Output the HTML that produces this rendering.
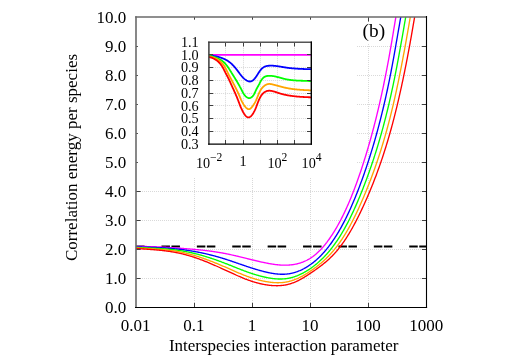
<!DOCTYPE html>
<html><head><meta charset="utf-8"><title>chart</title>
<style>html,body{margin:0;padding:0;background:#fff;overflow:hidden}body{width:510px;height:357px;position:relative;font-family:"Liberation Serif",serif}</style>
</head><body>
<svg width="510" height="357" viewBox="0 0 510 357" style="position:absolute;left:0;top:0">
<defs><clipPath id="cm"><rect x="136.00" y="17.00" width="290.50" height="290.50"/></clipPath>
<clipPath id="ci"><rect x="208.90" y="42.20" width="102.40" height="102.00"/></clipPath></defs>
<rect width="510" height="357" fill="#fff"/>
<line x1="136.00" y1="278.50" x2="426.50" y2="278.50" stroke="#d9d9d9" stroke-width="1" stroke-dasharray="1 1" fill="none"/>
<line x1="136.00" y1="249.50" x2="426.50" y2="249.50" stroke="#d9d9d9" stroke-width="1" stroke-dasharray="1 1" fill="none"/>
<line x1="136.00" y1="220.50" x2="426.50" y2="220.50" stroke="#d9d9d9" stroke-width="1" stroke-dasharray="1 1" fill="none"/>
<line x1="136.00" y1="191.50" x2="426.50" y2="191.50" stroke="#d9d9d9" stroke-width="1" stroke-dasharray="1 1" fill="none"/>
<line x1="357.00" y1="162.50" x2="426.50" y2="162.50" stroke="#d9d9d9" stroke-width="1" stroke-dasharray="1 1" fill="none"/>
<line x1="357.00" y1="133.50" x2="426.50" y2="133.50" stroke="#d9d9d9" stroke-width="1" stroke-dasharray="1 1" fill="none"/>
<line x1="357.00" y1="104.50" x2="426.50" y2="104.50" stroke="#d9d9d9" stroke-width="1" stroke-dasharray="1 1" fill="none"/>
<line x1="357.00" y1="75.50" x2="426.50" y2="75.50" stroke="#d9d9d9" stroke-width="1" stroke-dasharray="1 1" fill="none"/>
<line x1="357.00" y1="46.50" x2="426.50" y2="46.50" stroke="#d9d9d9" stroke-width="1" stroke-dasharray="1 1" fill="none"/>
<line x1="194.50" y1="178.00" x2="194.50" y2="307.50" stroke="#d9d9d9" stroke-width="1" stroke-dasharray="1 1" fill="none"/>
<line x1="252.50" y1="178.00" x2="252.50" y2="307.50" stroke="#d9d9d9" stroke-width="1" stroke-dasharray="1 1" fill="none"/>
<line x1="310.50" y1="178.00" x2="310.50" y2="307.50" stroke="#d9d9d9" stroke-width="1" stroke-dasharray="1 1" fill="none"/>
<line x1="368.50" y1="44.00" x2="368.50" y2="307.50" stroke="#d9d9d9" stroke-width="1" stroke-dasharray="1 1" fill="none"/>
<line x1="136.00" y1="246.50" x2="426.50" y2="246.50" stroke="#000" stroke-width="2.00" stroke-dasharray="8.5 1.5 8.5 16.9" stroke-dashoffset="9.95"/>
<g clip-path="url(#cm)" fill="none" stroke-width="1.35" stroke-linejoin="round">
<path d="M136.00 246.57 L136.52 246.56 L137.05 246.55 L137.57 246.54 L138.10 246.53 L138.62 246.53 L139.15 246.52 L139.67 246.52 L140.19 246.51 L140.72 246.51 L141.24 246.51 L141.77 246.51 L142.29 246.51 L142.82 246.51 L143.34 246.51 L143.86 246.52 L144.39 246.52 L144.91 246.52 L145.44 246.53 L145.96 246.54 L146.49 246.54 L147.01 246.55 L147.53 246.56 L148.06 246.57 L148.58 246.58 L149.11 246.59 L149.63 246.60 L150.16 246.62 L150.68 246.63 L151.20 246.64 L151.73 246.66 L152.25 246.67 L152.78 246.69 L153.30 246.71 L153.83 246.73 L154.35 246.74 L154.87 246.76 L155.40 246.78 L155.92 246.80 L156.45 246.82 L156.97 246.84 L157.50 246.87 L158.02 246.89 L158.54 246.91 L159.07 246.94 L159.59 246.96 L160.12 246.99 L160.64 247.01 L161.17 247.04 L161.69 247.06 L162.21 247.09 L162.74 247.12 L163.26 247.15 L163.79 247.18 L164.31 247.20 L164.83 247.23 L165.36 247.26 L165.88 247.29 L166.41 247.33 L166.93 247.36 L167.46 247.39 L167.98 247.42 L168.50 247.45 L169.03 247.49 L169.55 247.52 L170.08 247.55 L170.60 247.59 L171.13 247.62 L171.65 247.66 L172.17 247.69 L172.70 247.73 L173.22 247.76 L173.75 247.80 L174.27 247.83 L174.80 247.87 L175.32 247.91 L175.84 247.95 L176.37 247.98 L176.89 248.02 L177.42 248.06 L177.94 248.10 L178.47 248.13 L178.99 248.17 L179.51 248.21 L180.04 248.25 L180.56 248.29 L181.09 248.33 L181.61 248.37 L182.14 248.41 L182.66 248.45 L183.18 248.49 L183.71 248.53 L184.23 248.57 L184.76 248.61 L185.28 248.65 L185.81 248.69 L186.33 248.73 L186.85 248.77 L187.38 248.81 L187.90 248.85 L188.43 248.89 L188.95 248.94 L189.48 248.98 L190.00 249.02 L190.52 249.07 L191.05 249.11 L191.57 249.15 L192.10 249.20 L192.62 249.24 L193.15 249.29 L193.67 249.34 L194.19 249.38 L194.72 249.43 L195.24 249.48 L195.77 249.52 L196.29 249.57 L196.82 249.62 L197.34 249.67 L197.86 249.72 L198.39 249.77 L198.91 249.82 L199.44 249.88 L199.96 249.93 L200.49 249.98 L201.01 250.04 L201.53 250.09 L202.06 250.15 L202.58 250.20 L203.11 250.26 L203.63 250.32 L204.16 250.38 L204.68 250.44 L205.20 250.50 L205.73 250.56 L206.25 250.62 L206.78 250.68 L207.30 250.75 L207.83 250.81 L208.35 250.88 L208.87 250.94 L209.40 251.01 L209.92 251.08 L210.45 251.15 L210.97 251.22 L211.50 251.29 L212.02 251.36 L212.54 251.43 L213.07 251.51 L213.59 251.58 L214.12 251.66 L214.64 251.74 L215.17 251.82 L215.69 251.89 L216.21 251.97 L216.74 252.06 L217.26 252.14 L217.79 252.22 L218.31 252.31 L218.83 252.39 L219.36 252.48 L219.88 252.57 L220.41 252.66 L220.93 252.75 L221.46 252.84 L221.98 252.93 L222.50 253.03 L223.03 253.12 L223.55 253.22 L224.08 253.32 L224.60 253.42 L225.13 253.52 L225.65 253.62 L226.17 253.72 L226.70 253.83 L227.22 253.93 L227.75 254.04 L228.27 254.15 L228.80 254.25 L229.32 254.37 L229.84 254.48 L230.37 254.59 L230.89 254.71 L231.42 254.82 L231.94 254.94 L232.47 255.05 L232.99 255.17 L233.51 255.29 L234.04 255.41 L234.56 255.54 L235.09 255.66 L235.61 255.78 L236.14 255.90 L236.66 256.03 L237.18 256.15 L237.71 256.28 L238.23 256.41 L238.76 256.53 L239.28 256.66 L239.81 256.79 L240.33 256.92 L240.85 257.05 L241.38 257.17 L241.90 257.30 L242.43 257.43 L242.95 257.56 L243.48 257.69 L244.00 257.82 L244.52 257.95 L245.05 258.08 L245.57 258.21 L246.10 258.34 L246.62 258.47 L247.15 258.60 L247.67 258.73 L248.19 258.86 L248.72 258.99 L249.24 259.12 L249.77 259.25 L250.29 259.38 L250.82 259.51 L251.34 259.64 L251.86 259.77 L252.39 259.89 L252.91 260.02 L253.44 260.15 L253.96 260.27 L254.49 260.40 L255.01 260.52 L255.53 260.65 L256.06 260.77 L256.58 260.90 L257.11 261.02 L257.63 261.14 L258.16 261.26 L258.68 261.38 L259.20 261.50 L259.73 261.62 L260.25 261.74 L260.78 261.85 L261.30 261.97 L261.83 262.08 L262.35 262.20 L262.87 262.31 L263.40 262.42 L263.92 262.53 L264.45 262.64 L264.97 262.75 L265.50 262.86 L266.02 262.96 L266.54 263.07 L267.07 263.17 L267.59 263.27 L268.12 263.37 L268.64 263.47 L269.17 263.57 L269.69 263.66 L270.21 263.75 L270.74 263.84 L271.26 263.93 L271.79 264.02 L272.31 264.10 L272.84 264.18 L273.36 264.26 L273.88 264.34 L274.41 264.41 L274.93 264.48 L275.46 264.55 L275.98 264.61 L276.50 264.67 L277.03 264.73 L277.55 264.79 L278.08 264.84 L278.60 264.89 L279.13 264.93 L279.65 264.97 L280.17 265.01 L280.70 265.05 L281.22 265.08 L281.75 265.11 L282.27 265.13 L282.80 265.15 L283.32 265.16 L283.84 265.18 L284.37 265.18 L284.89 265.18 L285.42 265.18 L285.94 265.18 L286.47 265.17 L286.99 265.15 L287.51 265.13 L288.04 265.10 L288.56 265.07 L289.09 265.04 L289.61 265.00 L290.14 264.95 L290.66 264.90 L291.18 264.85 L291.71 264.79 L292.23 264.72 L292.76 264.65 L293.28 264.57 L293.81 264.49 L294.33 264.40 L294.85 264.30 L295.38 264.20 L295.90 264.09 L296.43 263.98 L296.95 263.86 L297.48 263.73 L298.00 263.60 L298.52 263.46 L299.05 263.32 L299.57 263.17 L300.10 263.01 L300.62 262.84 L301.15 262.67 L301.67 262.48 L302.19 262.30 L302.72 262.10 L303.24 261.90 L303.77 261.68 L304.29 261.46 L304.82 261.24 L305.34 261.00 L305.86 260.75 L306.39 260.50 L306.91 260.24 L307.44 259.96 L307.96 259.68 L308.49 259.39 L309.01 259.09 L309.53 258.78 L310.06 258.46 L310.58 258.12 L311.11 257.78 L311.63 257.43 L312.16 257.06 L312.68 256.69 L313.20 256.30 L313.73 255.91 L314.25 255.50 L314.78 255.08 L315.30 254.65 L315.83 254.21 L316.35 253.76 L316.87 253.30 L317.40 252.82 L317.92 252.34 L318.45 251.84 L318.97 251.33 L319.50 250.81 L320.02 250.28 L320.54 249.74 L321.07 249.19 L321.59 248.62 L322.12 248.05 L322.64 247.46 L323.17 246.86 L323.69 246.25 L324.21 245.63 L324.74 244.99 L325.26 244.35 L325.79 243.69 L326.31 243.02 L326.84 242.34 L327.36 241.64 L327.88 240.94 L328.41 240.22 L328.93 239.49 L329.46 238.75 L329.98 238.00 L330.50 237.23 L331.03 236.46 L331.55 235.67 L332.08 234.87 L332.60 234.06 L333.13 233.23 L333.65 232.40 L334.17 231.55 L334.70 230.69 L335.22 229.82 L335.75 228.94 L336.27 228.05 L336.80 227.14 L337.32 226.22 L337.84 225.29 L338.37 224.35 L338.89 223.39 L339.42 222.42 L339.94 221.44 L340.47 220.45 L340.99 219.44 L341.51 218.42 L342.04 217.39 L342.56 216.34 L343.09 215.28 L343.61 214.20 L344.14 213.12 L344.66 212.02 L345.18 210.90 L345.71 209.77 L346.23 208.63 L346.76 207.47 L347.28 206.30 L347.81 205.12 L348.33 203.92 L348.85 202.70 L349.38 201.47 L349.90 200.23 L350.43 198.97 L350.95 197.70 L351.48 196.41 L352.00 195.11 L352.52 193.80 L353.05 192.46 L353.57 191.12 L354.10 189.76 L354.62 188.38 L355.15 186.99 L355.67 185.58 L356.19 184.16 L356.72 182.72 L357.24 181.27 L357.77 179.80 L358.29 178.32 L358.82 176.82 L359.34 175.31 L359.86 173.78 L360.39 172.23 L360.91 170.67 L361.44 169.10 L361.96 167.51 L362.49 165.90 L363.01 164.28 L363.53 162.64 L364.06 160.99 L364.58 159.32 L365.11 157.64 L365.63 155.94 L366.16 154.22 L366.68 152.49 L367.20 150.74 L367.73 148.97 L368.25 147.18 L368.78 145.37 L369.30 143.55 L369.83 141.70 L370.35 139.84 L370.87 137.96 L371.40 136.06 L371.92 134.13 L372.45 132.19 L372.97 130.23 L373.50 128.24 L374.02 126.23 L374.54 124.20 L375.07 122.15 L375.59 120.07 L376.12 117.97 L376.64 115.84 L377.17 113.69 L377.69 111.52 L378.21 109.32 L378.74 107.09 L379.26 104.84 L379.79 102.56 L380.31 100.25 L380.84 97.91 L381.36 95.55 L381.88 93.15 L382.41 90.73 L382.93 88.27 L383.46 85.78 L383.98 83.26 L384.50 80.71 L385.03 78.12 L385.55 75.50 L386.08 72.84 L386.60 70.15 L387.13 67.42 L387.65 64.66 L388.17 61.86 L388.70 59.01 L389.22 56.13 L389.75 53.21 L390.27 50.24 L390.80 47.24 L391.32 44.18 L391.84 41.09 L392.37 37.95 L392.89 34.79 L393.42 31.61 L393.94 28.43 L394.47 25.27 L394.99 22.13 L395.51 19.03 L396.04 15.99 L396.56 13.03 L397.09 10.16 L397.61 7.39" stroke="#ff00ff"/>
<path d="M136.00 246.91 L136.53 246.92 L137.07 246.93 L137.60 246.94 L138.14 246.95 L138.67 246.96 L139.20 246.97 L139.74 246.99 L140.27 247.00 L140.81 247.01 L141.34 247.02 L141.88 247.04 L142.41 247.05 L142.94 247.06 L143.48 247.07 L144.01 247.09 L144.55 247.10 L145.08 247.12 L145.61 247.13 L146.15 247.14 L146.68 247.16 L147.22 247.18 L147.75 247.19 L148.28 247.21 L148.82 247.22 L149.35 247.24 L149.89 247.26 L150.42 247.28 L150.96 247.30 L151.49 247.31 L152.02 247.33 L152.56 247.35 L153.09 247.37 L153.63 247.40 L154.16 247.42 L154.69 247.44 L155.23 247.46 L155.76 247.48 L156.30 247.51 L156.83 247.53 L157.37 247.56 L157.90 247.58 L158.43 247.61 L158.97 247.64 L159.50 247.66 L160.04 247.69 L160.57 247.72 L161.10 247.75 L161.64 247.78 L162.17 247.81 L162.71 247.84 L163.24 247.88 L163.77 247.91 L164.31 247.94 L164.84 247.98 L165.38 248.01 L165.91 248.05 L166.45 248.09 L166.98 248.13 L167.51 248.17 L168.05 248.21 L168.58 248.25 L169.12 248.29 L169.65 248.33 L170.18 248.37 L170.72 248.42 L171.25 248.46 L171.79 248.51 L172.32 248.56 L172.85 248.61 L173.39 248.65 L173.92 248.70 L174.46 248.76 L174.99 248.81 L175.53 248.86 L176.06 248.91 L176.59 248.97 L177.13 249.03 L177.66 249.08 L178.20 249.14 L178.73 249.20 L179.26 249.26 L179.80 249.32 L180.33 249.39 L180.87 249.45 L181.40 249.52 L181.94 249.58 L182.47 249.65 L183.00 249.72 L183.54 249.79 L184.07 249.86 L184.61 249.93 L185.14 250.00 L185.67 250.08 L186.21 250.15 L186.74 250.23 L187.28 250.31 L187.81 250.39 L188.34 250.47 L188.88 250.55 L189.41 250.63 L189.95 250.72 L190.48 250.80 L191.02 250.89 L191.55 250.98 L192.08 251.06 L192.62 251.15 L193.15 251.25 L193.69 251.34 L194.22 251.43 L194.75 251.53 L195.29 251.62 L195.82 251.72 L196.36 251.82 L196.89 251.92 L197.42 252.02 L197.96 252.13 L198.49 252.23 L199.03 252.34 L199.56 252.44 L200.10 252.55 L200.63 252.66 L201.16 252.77 L201.70 252.88 L202.23 253.00 L202.77 253.11 L203.30 253.23 L203.83 253.34 L204.37 253.46 L204.90 253.58 L205.44 253.70 L205.97 253.83 L206.51 253.95 L207.04 254.08 L207.57 254.20 L208.11 254.33 L208.64 254.46 L209.18 254.59 L209.71 254.72 L210.24 254.85 L210.78 254.99 L211.31 255.12 L211.85 255.26 L212.38 255.40 L212.91 255.54 L213.45 255.68 L213.98 255.82 L214.52 255.96 L215.05 256.11 L215.59 256.25 L216.12 256.40 L216.65 256.55 L217.19 256.70 L217.72 256.85 L218.26 257.00 L218.79 257.15 L219.32 257.31 L219.86 257.46 L220.39 257.62 L220.93 257.78 L221.46 257.94 L221.99 258.10 L222.53 258.26 L223.06 258.42 L223.60 258.59 L224.13 258.75 L224.67 258.92 L225.20 259.09 L225.73 259.26 L226.27 259.43 L226.80 259.60 L227.34 259.77 L227.87 259.94 L228.40 260.12 L228.94 260.29 L229.47 260.47 L230.01 260.65 L230.54 260.83 L231.08 261.01 L231.61 261.19 L232.14 261.37 L232.68 261.55 L233.21 261.74 L233.75 261.92 L234.28 262.10 L234.81 262.29 L235.35 262.47 L235.88 262.66 L236.42 262.84 L236.95 263.03 L237.48 263.21 L238.02 263.40 L238.55 263.59 L239.09 263.77 L239.62 263.96 L240.16 264.14 L240.69 264.33 L241.22 264.51 L241.76 264.70 L242.29 264.88 L242.83 265.07 L243.36 265.25 L243.89 265.43 L244.43 265.61 L244.96 265.80 L245.50 265.98 L246.03 266.16 L246.56 266.34 L247.10 266.52 L247.63 266.69 L248.17 266.87 L248.70 267.05 L249.24 267.22 L249.77 267.40 L250.30 267.57 L250.84 267.74 L251.37 267.92 L251.91 268.09 L252.44 268.25 L252.97 268.42 L253.51 268.59 L254.04 268.75 L254.58 268.92 L255.11 269.08 L255.65 269.24 L256.18 269.40 L256.71 269.56 L257.25 269.72 L257.78 269.87 L258.32 270.03 L258.85 270.18 L259.38 270.33 L259.92 270.48 L260.45 270.62 L260.99 270.77 L261.52 270.91 L262.05 271.06 L262.59 271.20 L263.12 271.34 L263.66 271.47 L264.19 271.61 L264.73 271.74 L265.26 271.87 L265.79 272.00 L266.33 272.13 L266.86 272.25 L267.40 272.37 L267.93 272.49 L268.46 272.61 L269.00 272.72 L269.53 272.83 L270.07 272.94 L270.60 273.04 L271.13 273.14 L271.67 273.24 L272.20 273.33 L272.74 273.42 L273.27 273.51 L273.81 273.59 L274.34 273.67 L274.87 273.74 L275.41 273.81 L275.94 273.88 L276.48 273.94 L277.01 273.99 L277.54 274.04 L278.08 274.09 L278.61 274.13 L279.15 274.17 L279.68 274.20 L280.22 274.22 L280.75 274.24 L281.28 274.26 L281.82 274.27 L282.35 274.27 L282.89 274.27 L283.42 274.26 L283.95 274.24 L284.49 274.22 L285.02 274.19 L285.56 274.16 L286.09 274.12 L286.62 274.07 L287.16 274.01 L287.69 273.95 L288.23 273.88 L288.76 273.80 L289.30 273.72 L289.83 273.62 L290.36 273.53 L290.90 273.42 L291.43 273.31 L291.97 273.18 L292.50 273.06 L293.03 272.92 L293.57 272.78 L294.10 272.63 L294.64 272.48 L295.17 272.31 L295.70 272.14 L296.24 271.97 L296.77 271.78 L297.31 271.59 L297.84 271.39 L298.38 271.19 L298.91 270.97 L299.44 270.75 L299.98 270.53 L300.51 270.29 L301.05 270.05 L301.58 269.80 L302.11 269.55 L302.65 269.28 L303.18 269.01 L303.72 268.74 L304.25 268.45 L304.78 268.16 L305.32 267.86 L305.85 267.55 L306.39 267.23 L306.92 266.91 L307.46 266.58 L307.99 266.24 L308.52 265.90 L309.06 265.54 L309.59 265.18 L310.13 264.81 L310.66 264.43 L311.19 264.05 L311.73 263.66 L312.26 263.26 L312.80 262.85 L313.33 262.43 L313.87 262.00 L314.40 261.57 L314.93 261.13 L315.47 260.67 L316.00 260.21 L316.54 259.75 L317.07 259.27 L317.60 258.78 L318.14 258.29 L318.67 257.78 L319.21 257.27 L319.74 256.74 L320.27 256.21 L320.81 255.67 L321.34 255.12 L321.88 254.56 L322.41 253.99 L322.95 253.41 L323.48 252.82 L324.01 252.22 L324.55 251.61 L325.08 250.99 L325.62 250.36 L326.15 249.72 L326.68 249.07 L327.22 248.41 L327.75 247.74 L328.29 247.06 L328.82 246.37 L329.35 245.67 L329.89 244.95 L330.42 244.23 L330.96 243.49 L331.49 242.75 L332.03 241.99 L332.56 241.22 L333.09 240.44 L333.63 239.65 L334.16 238.85 L334.70 238.04 L335.23 237.21 L335.76 236.38 L336.30 235.53 L336.83 234.67 L337.37 233.80 L337.90 232.92 L338.44 232.03 L338.97 231.12 L339.50 230.20 L340.04 229.27 L340.57 228.33 L341.11 227.37 L341.64 226.40 L342.17 225.42 L342.71 224.43 L343.24 223.42 L343.78 222.40 L344.31 221.37 L344.84 220.33 L345.38 219.27 L345.91 218.20 L346.45 217.12 L346.98 216.02 L347.52 214.91 L348.05 213.79 L348.58 212.65 L349.12 211.50 L349.65 210.34 L350.19 209.16 L350.72 207.97 L351.25 206.77 L351.79 205.56 L352.32 204.33 L352.86 203.08 L353.39 201.83 L353.92 200.56 L354.46 199.27 L354.99 197.98 L355.53 196.67 L356.06 195.34 L356.60 194.00 L357.13 192.65 L357.66 191.29 L358.20 189.91 L358.73 188.52 L359.27 187.12 L359.80 185.70 L360.33 184.27 L360.87 182.83 L361.40 181.37 L361.94 179.91 L362.47 178.42 L363.01 176.93 L363.54 175.42 L364.07 173.91 L364.61 172.37 L365.14 170.83 L365.68 169.27 L366.21 167.69 L366.74 166.11 L367.28 164.50 L367.81 162.89 L368.35 161.25 L368.88 159.60 L369.41 157.94 L369.95 156.26 L370.48 154.56 L371.02 152.85 L371.55 151.12 L372.09 149.37 L372.62 147.60 L373.15 145.82 L373.69 144.01 L374.22 142.19 L374.76 140.35 L375.29 138.48 L375.82 136.60 L376.36 134.70 L376.89 132.77 L377.43 130.82 L377.96 128.85 L378.49 126.85 L379.03 124.83 L379.56 122.79 L380.10 120.72 L380.63 118.63 L381.17 116.51 L381.70 114.36 L382.23 112.18 L382.77 109.98 L383.30 107.75 L383.84 105.49 L384.37 103.19 L384.90 100.87 L385.44 98.52 L385.97 96.13 L386.51 93.71 L387.04 91.25 L387.58 88.76 L388.11 86.23 L388.64 83.67 L389.18 81.07 L389.71 78.42 L390.25 75.74 L390.78 73.02 L391.31 70.25 L391.85 67.45 L392.38 64.60 L392.92 61.71 L393.45 58.78 L393.98 55.82 L394.52 52.83 L395.05 49.81 L395.59 46.78 L396.12 43.72 L396.66 40.65 L397.19 37.58 L397.72 34.50 L398.26 31.42 L398.79 28.34 L399.33 25.28 L399.86 22.23 L400.39 19.21 L400.93 16.21 L401.46 13.25 L402.00 10.33 L402.53 7.46" stroke="#0000ff"/>
<path d="M136.00 247.40 L136.54 247.42 L137.09 247.45 L137.63 247.47 L138.17 247.50 L138.72 247.52 L139.26 247.55 L139.81 247.57 L140.35 247.60 L140.89 247.62 L141.44 247.64 L141.98 247.66 L142.52 247.69 L143.07 247.71 L143.61 247.73 L144.16 247.75 L144.70 247.78 L145.24 247.80 L145.79 247.82 L146.33 247.84 L146.87 247.87 L147.42 247.89 L147.96 247.91 L148.51 247.94 L149.05 247.96 L149.59 247.98 L150.14 248.01 L150.68 248.03 L151.22 248.06 L151.77 248.08 L152.31 248.11 L152.85 248.13 L153.40 248.16 L153.94 248.18 L154.49 248.21 L155.03 248.24 L155.57 248.27 L156.12 248.30 L156.66 248.33 L157.20 248.36 L157.75 248.39 L158.29 248.42 L158.84 248.45 L159.38 248.48 L159.92 248.52 L160.47 248.55 L161.01 248.59 L161.55 248.63 L162.10 248.66 L162.64 248.70 L163.18 248.74 L163.73 248.78 L164.27 248.82 L164.82 248.87 L165.36 248.91 L165.90 248.95 L166.45 249.00 L166.99 249.05 L167.53 249.10 L168.08 249.15 L168.62 249.20 L169.17 249.25 L169.71 249.30 L170.25 249.36 L170.80 249.41 L171.34 249.47 L171.88 249.53 L172.43 249.59 L172.97 249.65 L173.52 249.71 L174.06 249.78 L174.60 249.85 L175.15 249.91 L175.69 249.98 L176.23 250.05 L176.78 250.13 L177.32 250.20 L177.86 250.28 L178.41 250.36 L178.95 250.44 L179.50 250.52 L180.04 250.60 L180.58 250.69 L181.13 250.77 L181.67 250.86 L182.21 250.95 L182.76 251.04 L183.30 251.14 L183.85 251.23 L184.39 251.33 L184.93 251.43 L185.48 251.53 L186.02 251.64 L186.56 251.74 L187.11 251.85 L187.65 251.96 L188.19 252.07 L188.74 252.18 L189.28 252.29 L189.83 252.41 L190.37 252.53 L190.91 252.65 L191.46 252.77 L192.00 252.89 L192.54 253.02 L193.09 253.15 L193.63 253.27 L194.18 253.40 L194.72 253.54 L195.26 253.67 L195.81 253.81 L196.35 253.94 L196.89 254.08 L197.44 254.22 L197.98 254.37 L198.53 254.51 L199.07 254.65 L199.61 254.80 L200.16 254.95 L200.70 255.10 L201.24 255.25 L201.79 255.41 L202.33 255.56 L202.87 255.72 L203.42 255.88 L203.96 256.04 L204.51 256.20 L205.05 256.36 L205.59 256.53 L206.14 256.69 L206.68 256.86 L207.22 257.03 L207.77 257.20 L208.31 257.37 L208.86 257.55 L209.40 257.72 L209.94 257.90 L210.49 258.07 L211.03 258.25 L211.57 258.43 L212.12 258.62 L212.66 258.80 L213.20 258.98 L213.75 259.17 L214.29 259.35 L214.84 259.54 L215.38 259.73 L215.92 259.92 L216.47 260.11 L217.01 260.31 L217.55 260.50 L218.10 260.70 L218.64 260.89 L219.19 261.09 L219.73 261.29 L220.27 261.49 L220.82 261.69 L221.36 261.89 L221.90 262.10 L222.45 262.30 L222.99 262.50 L223.54 262.71 L224.08 262.92 L224.62 263.13 L225.17 263.33 L225.71 263.54 L226.25 263.75 L226.80 263.97 L227.34 264.18 L227.88 264.39 L228.43 264.61 L228.97 264.82 L229.52 265.04 L230.06 265.25 L230.60 265.47 L231.15 265.69 L231.69 265.91 L232.23 266.12 L232.78 266.34 L233.32 266.56 L233.87 266.78 L234.41 267.00 L234.95 267.22 L235.50 267.43 L236.04 267.65 L236.58 267.87 L237.13 268.09 L237.67 268.30 L238.22 268.52 L238.76 268.73 L239.30 268.95 L239.85 269.16 L240.39 269.37 L240.93 269.58 L241.48 269.80 L242.02 270.00 L242.56 270.21 L243.11 270.42 L243.65 270.63 L244.20 270.83 L244.74 271.03 L245.28 271.23 L245.83 271.43 L246.37 271.63 L246.91 271.83 L247.46 272.02 L248.00 272.22 L248.55 272.41 L249.09 272.60 L249.63 272.79 L250.18 272.97 L250.72 273.16 L251.26 273.34 L251.81 273.52 L252.35 273.70 L252.89 273.87 L253.44 274.05 L253.98 274.22 L254.53 274.39 L255.07 274.56 L255.61 274.72 L256.16 274.88 L256.70 275.04 L257.24 275.20 L257.79 275.36 L258.33 275.51 L258.88 275.66 L259.42 275.81 L259.96 275.95 L260.51 276.10 L261.05 276.24 L261.59 276.37 L262.14 276.51 L262.68 276.64 L263.23 276.77 L263.77 276.90 L264.31 277.02 L264.86 277.14 L265.40 277.26 L265.94 277.38 L266.49 277.49 L267.03 277.60 L267.57 277.70 L268.12 277.80 L268.66 277.90 L269.21 278.00 L269.75 278.09 L270.29 278.18 L270.84 278.26 L271.38 278.34 L271.92 278.42 L272.47 278.49 L273.01 278.55 L273.56 278.62 L274.10 278.68 L274.64 278.73 L275.19 278.78 L275.73 278.83 L276.27 278.87 L276.82 278.90 L277.36 278.93 L277.90 278.96 L278.45 278.98 L278.99 278.99 L279.54 279.00 L280.08 279.01 L280.62 279.00 L281.17 279.00 L281.71 278.98 L282.25 278.96 L282.80 278.94 L283.34 278.91 L283.89 278.87 L284.43 278.82 L284.97 278.77 L285.52 278.72 L286.06 278.65 L286.60 278.58 L287.15 278.50 L287.69 278.41 L288.24 278.32 L288.78 278.22 L289.32 278.11 L289.87 277.99 L290.41 277.87 L290.95 277.74 L291.50 277.60 L292.04 277.45 L292.58 277.30 L293.13 277.14 L293.67 276.98 L294.22 276.80 L294.76 276.62 L295.30 276.44 L295.85 276.24 L296.39 276.04 L296.93 275.83 L297.48 275.62 L298.02 275.40 L298.57 275.17 L299.11 274.93 L299.65 274.69 L300.20 274.44 L300.74 274.19 L301.28 273.93 L301.83 273.66 L302.37 273.38 L302.92 273.10 L303.46 272.81 L304.00 272.51 L304.55 272.21 L305.09 271.90 L305.63 271.59 L306.18 271.27 L306.72 270.94 L307.26 270.60 L307.81 270.26 L308.35 269.91 L308.90 269.56 L309.44 269.20 L309.98 268.83 L310.53 268.46 L311.07 268.08 L311.61 267.69 L312.16 267.30 L312.70 266.90 L313.25 266.50 L313.79 266.08 L314.33 265.66 L314.88 265.24 L315.42 264.81 L315.96 264.37 L316.51 263.92 L317.05 263.47 L317.59 263.00 L318.14 262.54 L318.68 262.06 L319.23 261.58 L319.77 261.08 L320.31 260.59 L320.86 260.08 L321.40 259.56 L321.94 259.04 L322.49 258.51 L323.03 257.97 L323.58 257.42 L324.12 256.86 L324.66 256.30 L325.21 255.72 L325.75 255.14 L326.29 254.54 L326.84 253.94 L327.38 253.33 L327.93 252.71 L328.47 252.08 L329.01 251.44 L329.56 250.79 L330.10 250.13 L330.64 249.46 L331.19 248.78 L331.73 248.09 L332.27 247.39 L332.82 246.68 L333.36 245.96 L333.91 245.22 L334.45 244.48 L334.99 243.72 L335.54 242.96 L336.08 242.18 L336.62 241.39 L337.17 240.59 L337.71 239.78 L338.26 238.96 L338.80 238.12 L339.34 237.27 L339.89 236.41 L340.43 235.54 L340.97 234.66 L341.52 233.77 L342.06 232.86 L342.60 231.94 L343.15 231.01 L343.69 230.07 L344.24 229.11 L344.78 228.14 L345.32 227.16 L345.87 226.17 L346.41 225.16 L346.95 224.14 L347.50 223.11 L348.04 222.07 L348.59 221.01 L349.13 219.94 L349.67 218.86 L350.22 217.77 L350.76 216.66 L351.30 215.54 L351.85 214.41 L352.39 213.26 L352.94 212.10 L353.48 210.93 L354.02 209.75 L354.57 208.55 L355.11 207.35 L355.65 206.12 L356.20 204.89 L356.74 203.64 L357.28 202.39 L357.83 201.11 L358.37 199.83 L358.92 198.54 L359.46 197.23 L360.00 195.91 L360.55 194.58 L361.09 193.24 L361.63 191.88 L362.18 190.52 L362.72 189.14 L363.27 187.75 L363.81 186.35 L364.35 184.94 L364.90 183.52 L365.44 182.09 L365.98 180.64 L366.53 179.18 L367.07 177.71 L367.61 176.22 L368.16 174.72 L368.70 173.21 L369.25 171.69 L369.79 170.15 L370.33 168.59 L370.88 167.03 L371.42 165.44 L371.96 163.84 L372.51 162.23 L373.05 160.60 L373.60 158.95 L374.14 157.29 L374.68 155.61 L375.23 153.91 L375.77 152.20 L376.31 150.46 L376.86 148.71 L377.40 146.94 L377.95 145.15 L378.49 143.34 L379.03 141.51 L379.58 139.65 L380.12 137.78 L380.66 135.89 L381.21 133.97 L381.75 132.03 L382.29 130.06 L382.84 128.07 L383.38 126.06 L383.93 124.02 L384.47 121.95 L385.01 119.86 L385.56 117.74 L386.10 115.60 L386.64 113.42 L387.19 111.22 L387.73 108.98 L388.28 106.72 L388.82 104.42 L389.36 102.09 L389.91 99.72 L390.45 97.33 L390.99 94.89 L391.54 92.43 L392.08 89.92 L392.63 87.38 L393.17 84.80 L393.71 82.19 L394.26 79.54 L394.80 76.85 L395.34 74.14 L395.89 71.38 L396.43 68.60 L396.97 65.78 L397.52 62.93 L398.06 60.06 L398.61 57.15 L399.15 54.21 L399.69 51.24 L400.24 48.25 L400.78 45.23 L401.32 42.19 L401.87 39.12 L402.41 36.04 L402.96 32.93 L403.50 29.80 L404.04 26.65 L404.59 23.49 L405.13 20.31 L405.67 17.11 L406.22 13.91 L406.76 10.69 L407.30 7.47" stroke="#00ff00"/>
<path d="M136.00 247.87 L136.55 247.91 L137.11 247.94 L137.66 247.98 L138.21 248.01 L138.76 248.05 L139.32 248.08 L139.87 248.12 L140.42 248.15 L140.98 248.18 L141.53 248.21 L142.08 248.24 L142.63 248.28 L143.19 248.31 L143.74 248.34 L144.29 248.37 L144.85 248.40 L145.40 248.43 L145.95 248.46 L146.50 248.49 L147.06 248.52 L147.61 248.55 L148.16 248.58 L148.72 248.61 L149.27 248.65 L149.82 248.68 L150.37 248.71 L150.93 248.74 L151.48 248.77 L152.03 248.81 L152.59 248.84 L153.14 248.87 L153.69 248.91 L154.24 248.94 L154.80 248.98 L155.35 249.02 L155.90 249.05 L156.46 249.09 L157.01 249.13 L157.56 249.17 L158.11 249.21 L158.67 249.25 L159.22 249.29 L159.77 249.34 L160.33 249.38 L160.88 249.43 L161.43 249.47 L161.98 249.52 L162.54 249.57 L163.09 249.62 L163.64 249.67 L164.20 249.73 L164.75 249.78 L165.30 249.83 L165.85 249.89 L166.41 249.95 L166.96 250.01 L167.51 250.07 L168.07 250.13 L168.62 250.20 L169.17 250.26 L169.72 250.33 L170.28 250.40 L170.83 250.47 L171.38 250.55 L171.94 250.62 L172.49 250.70 L173.04 250.78 L173.59 250.86 L174.15 250.94 L174.70 251.02 L175.25 251.11 L175.81 251.20 L176.36 251.29 L176.91 251.38 L177.46 251.48 L178.02 251.57 L178.57 251.67 L179.12 251.77 L179.68 251.88 L180.23 251.98 L180.78 252.09 L181.33 252.20 L181.89 252.31 L182.44 252.43 L182.99 252.54 L183.55 252.66 L184.10 252.78 L184.65 252.91 L185.20 253.04 L185.76 253.16 L186.31 253.30 L186.86 253.43 L187.42 253.57 L187.97 253.70 L188.52 253.84 L189.07 253.99 L189.63 254.13 L190.18 254.28 L190.73 254.43 L191.29 254.58 L191.84 254.73 L192.39 254.89 L192.94 255.04 L193.50 255.20 L194.05 255.36 L194.60 255.53 L195.16 255.69 L195.71 255.86 L196.26 256.03 L196.81 256.20 L197.37 256.37 L197.92 256.55 L198.47 256.73 L199.03 256.91 L199.58 257.09 L200.13 257.27 L200.68 257.45 L201.24 257.64 L201.79 257.83 L202.34 258.02 L202.90 258.21 L203.45 258.40 L204.00 258.60 L204.55 258.79 L205.11 258.99 L205.66 259.19 L206.21 259.39 L206.77 259.60 L207.32 259.80 L207.87 260.01 L208.42 260.21 L208.98 260.42 L209.53 260.63 L210.08 260.84 L210.64 261.06 L211.19 261.27 L211.74 261.48 L212.29 261.70 L212.85 261.92 L213.40 262.14 L213.95 262.36 L214.51 262.58 L215.06 262.80 L215.61 263.03 L216.16 263.25 L216.72 263.48 L217.27 263.71 L217.82 263.93 L218.38 264.16 L218.93 264.39 L219.48 264.62 L220.03 264.86 L220.59 265.09 L221.14 265.32 L221.69 265.56 L222.25 265.79 L222.80 266.03 L223.35 266.27 L223.90 266.50 L224.46 266.74 L225.01 266.98 L225.56 267.22 L226.12 267.46 L226.67 267.70 L227.22 267.94 L227.77 268.19 L228.33 268.43 L228.88 268.67 L229.43 268.92 L229.99 269.16 L230.54 269.40 L231.09 269.65 L231.64 269.89 L232.20 270.14 L232.75 270.38 L233.30 270.62 L233.86 270.87 L234.41 271.11 L234.96 271.35 L235.51 271.59 L236.07 271.83 L236.62 272.07 L237.17 272.31 L237.73 272.55 L238.28 272.78 L238.83 273.02 L239.38 273.25 L239.94 273.48 L240.49 273.71 L241.04 273.94 L241.60 274.17 L242.15 274.39 L242.70 274.61 L243.25 274.83 L243.81 275.05 L244.36 275.27 L244.91 275.48 L245.47 275.70 L246.02 275.91 L246.57 276.11 L247.12 276.32 L247.68 276.52 L248.23 276.72 L248.78 276.92 L249.34 277.12 L249.89 277.31 L250.44 277.50 L250.99 277.68 L251.55 277.87 L252.10 278.05 L252.65 278.23 L253.21 278.41 L253.76 278.58 L254.31 278.75 L254.86 278.92 L255.42 279.08 L255.97 279.24 L256.52 279.40 L257.08 279.55 L257.63 279.71 L258.18 279.85 L258.73 280.00 L259.29 280.14 L259.84 280.28 L260.39 280.42 L260.95 280.55 L261.50 280.68 L262.05 280.80 L262.60 280.92 L263.16 281.04 L263.71 281.16 L264.26 281.27 L264.82 281.38 L265.37 281.48 L265.92 281.58 L266.47 281.68 L267.03 281.77 L267.58 281.86 L268.13 281.95 L268.69 282.03 L269.24 282.10 L269.79 282.18 L270.34 282.25 L270.90 282.31 L271.45 282.37 L272.00 282.43 L272.56 282.48 L273.11 282.52 L273.66 282.56 L274.21 282.60 L274.77 282.63 L275.32 282.66 L275.87 282.68 L276.43 282.70 L276.98 282.71 L277.53 282.72 L278.08 282.72 L278.64 282.71 L279.19 282.70 L279.74 282.69 L280.30 282.67 L280.85 282.64 L281.40 282.60 L281.95 282.56 L282.51 282.52 L283.06 282.46 L283.61 282.40 L284.17 282.34 L284.72 282.27 L285.27 282.18 L285.82 282.10 L286.38 282.00 L286.93 281.90 L287.48 281.79 L288.04 281.67 L288.59 281.54 L289.14 281.41 L289.69 281.27 L290.25 281.12 L290.80 280.96 L291.35 280.80 L291.91 280.63 L292.46 280.45 L293.01 280.26 L293.56 280.07 L294.12 279.87 L294.67 279.66 L295.22 279.45 L295.78 279.23 L296.33 279.00 L296.88 278.76 L297.43 278.52 L297.99 278.27 L298.54 278.02 L299.09 277.76 L299.65 277.49 L300.20 277.21 L300.75 276.93 L301.30 276.65 L301.86 276.35 L302.41 276.05 L302.96 275.75 L303.52 275.44 L304.07 275.12 L304.62 274.80 L305.17 274.47 L305.73 274.13 L306.28 273.79 L306.83 273.45 L307.39 273.10 L307.94 272.75 L308.49 272.39 L309.04 272.02 L309.60 271.66 L310.15 271.29 L310.70 270.91 L311.26 270.53 L311.81 270.15 L312.36 269.76 L312.91 269.37 L313.47 268.97 L314.02 268.57 L314.57 268.17 L315.13 267.76 L315.68 267.34 L316.23 266.93 L316.78 266.50 L317.34 266.07 L317.89 265.64 L318.44 265.20 L319.00 264.75 L319.55 264.30 L320.10 263.85 L320.65 263.38 L321.21 262.92 L321.76 262.44 L322.31 261.96 L322.87 261.47 L323.42 260.98 L323.97 260.48 L324.52 259.97 L325.08 259.45 L325.63 258.93 L326.18 258.40 L326.74 257.86 L327.29 257.32 L327.84 256.76 L328.39 256.20 L328.95 255.63 L329.50 255.05 L330.05 254.46 L330.61 253.86 L331.16 253.25 L331.71 252.63 L332.26 252.01 L332.82 251.37 L333.37 250.72 L333.92 250.06 L334.48 249.39 L335.03 248.70 L335.58 248.01 L336.13 247.31 L336.69 246.59 L337.24 245.86 L337.79 245.12 L338.35 244.37 L338.90 243.61 L339.45 242.83 L340.00 242.05 L340.56 241.25 L341.11 240.44 L341.66 239.62 L342.22 238.78 L342.77 237.94 L343.32 237.08 L343.87 236.21 L344.43 235.32 L344.98 234.43 L345.53 233.52 L346.09 232.60 L346.64 231.66 L347.19 230.72 L347.74 229.76 L348.30 228.79 L348.85 227.81 L349.40 226.81 L349.96 225.80 L350.51 224.78 L351.06 223.75 L351.62 222.70 L352.17 221.64 L352.72 220.57 L353.27 219.49 L353.83 218.39 L354.38 217.28 L354.93 216.16 L355.49 215.03 L356.04 213.89 L356.59 212.73 L357.14 211.56 L357.70 210.38 L358.25 209.19 L358.80 207.99 L359.36 206.77 L359.91 205.54 L360.46 204.31 L361.01 203.06 L361.57 201.80 L362.12 200.53 L362.67 199.25 L363.23 197.96 L363.78 196.66 L364.33 195.35 L364.88 194.03 L365.44 192.70 L365.99 191.36 L366.54 190.00 L367.10 188.63 L367.65 187.26 L368.20 185.87 L368.75 184.47 L369.31 183.05 L369.86 181.62 L370.41 180.18 L370.97 178.73 L371.52 177.26 L372.07 175.78 L372.62 174.29 L373.18 172.78 L373.73 171.25 L374.28 169.72 L374.84 168.16 L375.39 166.59 L375.94 165.00 L376.49 163.40 L377.05 161.78 L377.60 160.15 L378.15 158.49 L378.71 156.82 L379.26 155.13 L379.81 153.42 L380.36 151.69 L380.92 149.94 L381.47 148.17 L382.02 146.38 L382.58 144.56 L383.13 142.73 L383.68 140.87 L384.23 139.00 L384.79 137.09 L385.34 135.17 L385.89 133.21 L386.45 131.24 L387.00 129.23 L387.55 127.20 L388.10 125.15 L388.66 123.06 L389.21 120.95 L389.76 118.80 L390.32 116.63 L390.87 114.42 L391.42 112.19 L391.97 109.92 L392.53 107.62 L393.08 105.28 L393.63 102.91 L394.19 100.51 L394.74 98.08 L395.29 95.61 L395.84 93.11 L396.40 90.58 L396.95 88.01 L397.50 85.41 L398.06 82.78 L398.61 80.12 L399.16 77.43 L399.71 74.70 L400.27 71.94 L400.82 69.15 L401.37 66.33 L401.93 63.48 L402.48 60.60 L403.03 57.69 L403.58 54.74 L404.14 51.77 L404.69 48.77 L405.24 45.74 L405.80 42.69 L406.35 39.60 L406.90 36.49 L407.45 33.36 L408.01 30.20 L408.56 27.01 L409.11 23.80 L409.67 20.57 L410.22 17.31 L410.77 14.03 L411.32 10.73 L411.88 7.41" stroke="#ffa500"/>
<path d="M136.00 248.46 L136.56 248.50 L137.12 248.54 L137.68 248.58 L138.25 248.62 L138.81 248.66 L139.37 248.70 L139.93 248.74 L140.49 248.78 L141.05 248.82 L141.61 248.86 L142.18 248.89 L142.74 248.93 L143.30 248.97 L143.86 249.01 L144.42 249.05 L144.98 249.08 L145.54 249.12 L146.11 249.16 L146.67 249.20 L147.23 249.24 L147.79 249.27 L148.35 249.31 L148.91 249.35 L149.47 249.39 L150.04 249.43 L150.60 249.47 L151.16 249.51 L151.72 249.56 L152.28 249.60 L152.84 249.64 L153.40 249.68 L153.97 249.73 L154.53 249.77 L155.09 249.82 L155.65 249.87 L156.21 249.91 L156.77 249.96 L157.33 250.01 L157.90 250.06 L158.46 250.12 L159.02 250.17 L159.58 250.22 L160.14 250.28 L160.70 250.34 L161.27 250.39 L161.83 250.45 L162.39 250.51 L162.95 250.58 L163.51 250.64 L164.07 250.71 L164.63 250.77 L165.20 250.84 L165.76 250.91 L166.32 250.98 L166.88 251.06 L167.44 251.13 L168.00 251.21 L168.56 251.29 L169.13 251.37 L169.69 251.45 L170.25 251.54 L170.81 251.62 L171.37 251.71 L171.93 251.80 L172.49 251.90 L173.06 251.99 L173.62 252.09 L174.18 252.19 L174.74 252.29 L175.30 252.39 L175.86 252.50 L176.42 252.61 L176.99 252.72 L177.55 252.83 L178.11 252.95 L178.67 253.06 L179.23 253.18 L179.79 253.31 L180.35 253.43 L180.92 253.56 L181.48 253.69 L182.04 253.82 L182.60 253.96 L183.16 254.10 L183.72 254.24 L184.28 254.38 L184.85 254.53 L185.41 254.67 L185.97 254.82 L186.53 254.98 L187.09 255.13 L187.65 255.29 L188.21 255.45 L188.78 255.62 L189.34 255.78 L189.90 255.95 L190.46 256.12 L191.02 256.29 L191.58 256.47 L192.14 256.64 L192.71 256.82 L193.27 257.00 L193.83 257.19 L194.39 257.37 L194.95 257.56 L195.51 257.75 L196.07 257.94 L196.64 258.14 L197.20 258.33 L197.76 258.53 L198.32 258.73 L198.88 258.93 L199.44 259.14 L200.00 259.34 L200.57 259.55 L201.13 259.76 L201.69 259.97 L202.25 260.19 L202.81 260.40 L203.37 260.62 L203.93 260.84 L204.50 261.06 L205.06 261.28 L205.62 261.50 L206.18 261.72 L206.74 261.95 L207.30 262.18 L207.86 262.41 L208.43 262.64 L208.99 262.87 L209.55 263.10 L210.11 263.34 L210.67 263.58 L211.23 263.81 L211.80 264.05 L212.36 264.29 L212.92 264.53 L213.48 264.77 L214.04 265.02 L214.60 265.26 L215.16 265.51 L215.73 265.75 L216.29 266.00 L216.85 266.25 L217.41 266.50 L217.97 266.75 L218.53 267.00 L219.09 267.25 L219.66 267.50 L220.22 267.76 L220.78 268.01 L221.34 268.27 L221.90 268.52 L222.46 268.78 L223.02 269.04 L223.59 269.29 L224.15 269.55 L224.71 269.81 L225.27 270.07 L225.83 270.33 L226.39 270.59 L226.95 270.85 L227.52 271.11 L228.08 271.37 L228.64 271.63 L229.20 271.89 L229.76 272.15 L230.32 272.41 L230.88 272.67 L231.45 272.94 L232.01 273.20 L232.57 273.46 L233.13 273.72 L233.69 273.97 L234.25 274.23 L234.81 274.49 L235.38 274.74 L235.94 275.00 L236.50 275.25 L237.06 275.50 L237.62 275.75 L238.18 276.00 L238.74 276.25 L239.31 276.49 L239.87 276.73 L240.43 276.97 L240.99 277.21 L241.55 277.45 L242.11 277.68 L242.67 277.91 L243.24 278.14 L243.80 278.37 L244.36 278.59 L244.92 278.82 L245.48 279.03 L246.04 279.25 L246.60 279.46 L247.17 279.67 L247.73 279.88 L248.29 280.09 L248.85 280.29 L249.41 280.48 L249.97 280.68 L250.53 280.87 L251.10 281.06 L251.66 281.25 L252.22 281.43 L252.78 281.61 L253.34 281.78 L253.90 281.96 L254.46 282.13 L255.03 282.29 L255.59 282.45 L256.15 282.61 L256.71 282.77 L257.27 282.92 L257.83 283.07 L258.40 283.21 L258.96 283.35 L259.52 283.49 L260.08 283.62 L260.64 283.75 L261.20 283.88 L261.76 284.00 L262.33 284.12 L262.89 284.23 L263.45 284.34 L264.01 284.45 L264.57 284.55 L265.13 284.65 L265.69 284.75 L266.26 284.84 L266.82 284.93 L267.38 285.01 L267.94 285.09 L268.50 285.16 L269.06 285.23 L269.62 285.30 L270.19 285.36 L270.75 285.41 L271.31 285.46 L271.87 285.51 L272.43 285.55 L272.99 285.59 L273.55 285.62 L274.12 285.65 L274.68 285.67 L275.24 285.69 L275.80 285.70 L276.36 285.70 L276.92 285.70 L277.48 285.70 L278.05 285.69 L278.61 285.67 L279.17 285.65 L279.73 285.62 L280.29 285.59 L280.85 285.54 L281.41 285.50 L281.98 285.44 L282.54 285.38 L283.10 285.31 L283.66 285.24 L284.22 285.16 L284.78 285.07 L285.34 284.97 L285.91 284.87 L286.47 284.76 L287.03 284.63 L287.59 284.51 L288.15 284.37 L288.71 284.22 L289.27 284.07 L289.84 283.91 L290.40 283.74 L290.96 283.56 L291.52 283.37 L292.08 283.18 L292.64 282.98 L293.20 282.77 L293.77 282.55 L294.33 282.33 L294.89 282.09 L295.45 281.86 L296.01 281.61 L296.57 281.36 L297.13 281.10 L297.70 280.83 L298.26 280.56 L298.82 280.28 L299.38 279.99 L299.94 279.69 L300.50 279.40 L301.06 279.09 L301.63 278.78 L302.19 278.46 L302.75 278.14 L303.31 277.81 L303.87 277.48 L304.43 277.14 L304.99 276.79 L305.56 276.45 L306.12 276.09 L306.68 275.74 L307.24 275.38 L307.80 275.01 L308.36 274.65 L308.93 274.28 L309.49 273.90 L310.05 273.53 L310.61 273.15 L311.17 272.78 L311.73 272.40 L312.29 272.01 L312.86 271.63 L313.42 271.25 L313.98 270.86 L314.54 270.47 L315.10 270.07 L315.66 269.68 L316.22 269.28 L316.79 268.88 L317.35 268.47 L317.91 268.07 L318.47 267.66 L319.03 267.24 L319.59 266.82 L320.15 266.40 L320.72 265.97 L321.28 265.54 L321.84 265.11 L322.40 264.67 L322.96 264.22 L323.52 263.77 L324.08 263.32 L324.65 262.86 L325.21 262.39 L325.77 261.92 L326.33 261.44 L326.89 260.95 L327.45 260.46 L328.01 259.96 L328.58 259.45 L329.14 258.93 L329.70 258.41 L330.26 257.88 L330.82 257.34 L331.38 256.78 L331.94 256.22 L332.51 255.65 L333.07 255.07 L333.63 254.48 L334.19 253.88 L334.75 253.27 L335.31 252.64 L335.87 252.00 L336.44 251.36 L337.00 250.70 L337.56 250.02 L338.12 249.34 L338.68 248.65 L339.24 247.94 L339.80 247.22 L340.37 246.49 L340.93 245.75 L341.49 244.99 L342.05 244.23 L342.61 243.45 L343.17 242.65 L343.73 241.85 L344.30 241.03 L344.86 240.20 L345.42 239.36 L345.98 238.51 L346.54 237.64 L347.10 236.76 L347.66 235.87 L348.23 234.97 L348.79 234.05 L349.35 233.12 L349.91 232.18 L350.47 231.22 L351.03 230.26 L351.59 229.28 L352.16 228.29 L352.72 227.28 L353.28 226.26 L353.84 225.24 L354.40 224.19 L354.96 223.14 L355.53 222.08 L356.09 221.00 L356.65 219.91 L357.21 218.81 L357.77 217.70 L358.33 216.57 L358.89 215.44 L359.46 214.29 L360.02 213.13 L360.58 211.97 L361.14 210.79 L361.70 209.60 L362.26 208.40 L362.82 207.19 L363.39 205.98 L363.95 204.75 L364.51 203.51 L365.07 202.26 L365.63 201.01 L366.19 199.74 L366.75 198.46 L367.32 197.17 L367.88 195.87 L368.44 194.56 L369.00 193.23 L369.56 191.90 L370.12 190.55 L370.68 189.19 L371.25 187.82 L371.81 186.44 L372.37 185.04 L372.93 183.64 L373.49 182.21 L374.05 180.78 L374.61 179.33 L375.18 177.87 L375.74 176.39 L376.30 174.90 L376.86 173.39 L377.42 171.87 L377.98 170.33 L378.54 168.78 L379.11 167.21 L379.67 165.62 L380.23 164.02 L380.79 162.40 L381.35 160.76 L381.91 159.10 L382.47 157.43 L383.04 155.74 L383.60 154.02 L384.16 152.29 L384.72 150.54 L385.28 148.76 L385.84 146.97 L386.40 145.15 L386.97 143.31 L387.53 141.45 L388.09 139.56 L388.65 137.65 L389.21 135.72 L389.77 133.76 L390.33 131.78 L390.90 129.77 L391.46 127.73 L392.02 125.66 L392.58 123.57 L393.14 121.45 L393.70 119.30 L394.26 117.12 L394.83 114.91 L395.39 112.68 L395.95 110.41 L396.51 108.12 L397.07 105.79 L397.63 103.44 L398.19 101.05 L398.76 98.63 L399.32 96.19 L399.88 93.71 L400.44 91.20 L401.00 88.66 L401.56 86.09 L402.12 83.48 L402.69 80.85 L403.25 78.18 L403.81 75.48 L404.37 72.74 L404.93 69.98 L405.49 67.18 L406.06 64.35 L406.62 61.48 L407.18 58.58 L407.74 55.65 L408.30 52.68 L408.86 49.68 L409.42 46.65 L409.99 43.58 L410.55 40.48 L411.11 37.34 L411.67 34.17 L412.23 30.96 L412.79 27.72 L413.35 24.45 L413.92 21.14 L414.48 17.79 L415.04 14.41 L415.60 11.00 L416.16 7.55" stroke="#ff0000"/>
</g>
<line x1="136.00" y1="278.50" x2="140.60" y2="278.50" stroke="#404040" stroke-width="1"/>
<line x1="426.50" y1="278.50" x2="421.90" y2="278.50" stroke="#404040" stroke-width="1"/>
<line x1="136.00" y1="249.50" x2="140.60" y2="249.50" stroke="#404040" stroke-width="1"/>
<line x1="426.50" y1="249.50" x2="421.90" y2="249.50" stroke="#404040" stroke-width="1"/>
<line x1="136.00" y1="220.50" x2="140.60" y2="220.50" stroke="#404040" stroke-width="1"/>
<line x1="426.50" y1="220.50" x2="421.90" y2="220.50" stroke="#404040" stroke-width="1"/>
<line x1="136.00" y1="191.50" x2="140.60" y2="191.50" stroke="#404040" stroke-width="1"/>
<line x1="426.50" y1="191.50" x2="421.90" y2="191.50" stroke="#404040" stroke-width="1"/>
<line x1="136.00" y1="162.50" x2="137.90" y2="162.50" stroke="#404040" stroke-width="1"/>
<line x1="426.50" y1="162.50" x2="421.90" y2="162.50" stroke="#404040" stroke-width="1"/>
<line x1="136.00" y1="133.50" x2="137.90" y2="133.50" stroke="#404040" stroke-width="1"/>
<line x1="426.50" y1="133.50" x2="421.90" y2="133.50" stroke="#404040" stroke-width="1"/>
<line x1="136.00" y1="104.50" x2="137.90" y2="104.50" stroke="#404040" stroke-width="1"/>
<line x1="426.50" y1="104.50" x2="421.90" y2="104.50" stroke="#404040" stroke-width="1"/>
<line x1="136.00" y1="75.50" x2="137.90" y2="75.50" stroke="#404040" stroke-width="1"/>
<line x1="426.50" y1="75.50" x2="421.90" y2="75.50" stroke="#404040" stroke-width="1"/>
<line x1="136.00" y1="46.50" x2="137.90" y2="46.50" stroke="#404040" stroke-width="1"/>
<line x1="426.50" y1="46.50" x2="421.90" y2="46.50" stroke="#404040" stroke-width="1"/>
<line x1="194.50" y1="307.50" x2="194.50" y2="302.90" stroke="#404040" stroke-width="1"/>
<line x1="194.50" y1="17.00" x2="194.50" y2="19.70" stroke="#404040" stroke-width="1"/>
<line x1="252.50" y1="307.50" x2="252.50" y2="302.90" stroke="#404040" stroke-width="1"/>
<line x1="252.50" y1="17.00" x2="252.50" y2="19.70" stroke="#404040" stroke-width="1"/>
<line x1="310.50" y1="307.50" x2="310.50" y2="302.90" stroke="#404040" stroke-width="1"/>
<line x1="310.50" y1="17.00" x2="310.50" y2="19.70" stroke="#404040" stroke-width="1"/>
<line x1="368.50" y1="307.50" x2="368.50" y2="302.90" stroke="#404040" stroke-width="1"/>
<line x1="368.50" y1="17.00" x2="368.50" y2="21.60" stroke="#404040" stroke-width="1"/>
<path d="M135.20 17.00 H427.00" stroke="#6a6a6a" stroke-width="1.60" fill="none"/>
<path d="M136.00 16.20 V308.00" stroke="#6a6a6a" stroke-width="1.60" fill="none"/>
<path d="M135.00 307.50 H427.10" stroke="#000" stroke-width="1.15" fill="none"/>
<path d="M426.50 16.00 V308.10" stroke="#000" stroke-width="1.10" fill="none"/>
<line x1="208.90" y1="131.50" x2="311.30" y2="131.50" stroke="#d9d9d9" stroke-width="1" stroke-dasharray="1 1" fill="none"/>
<line x1="208.90" y1="118.50" x2="311.30" y2="118.50" stroke="#d9d9d9" stroke-width="1" stroke-dasharray="1 1" fill="none"/>
<line x1="208.90" y1="105.50" x2="311.30" y2="105.50" stroke="#d9d9d9" stroke-width="1" stroke-dasharray="1 1" fill="none"/>
<line x1="208.90" y1="93.50" x2="311.30" y2="93.50" stroke="#d9d9d9" stroke-width="1" stroke-dasharray="1 1" fill="none"/>
<line x1="208.90" y1="80.50" x2="311.30" y2="80.50" stroke="#d9d9d9" stroke-width="1" stroke-dasharray="1 1" fill="none"/>
<line x1="208.90" y1="67.50" x2="311.30" y2="67.50" stroke="#d9d9d9" stroke-width="1" stroke-dasharray="1 1" fill="none"/>
<line x1="208.90" y1="54.50" x2="311.30" y2="54.50" stroke="#d9d9d9" stroke-width="1" stroke-dasharray="1 1" fill="none"/>
<line x1="225.50" y1="42.20" x2="225.50" y2="144.20" stroke="#d9d9d9" stroke-width="1" stroke-dasharray="1 1" fill="none"/>
<line x1="243.50" y1="42.20" x2="243.50" y2="144.20" stroke="#d9d9d9" stroke-width="1" stroke-dasharray="1 1" fill="none"/>
<line x1="260.50" y1="42.20" x2="260.50" y2="144.20" stroke="#d9d9d9" stroke-width="1" stroke-dasharray="1 1" fill="none"/>
<line x1="277.50" y1="42.20" x2="277.50" y2="144.20" stroke="#d9d9d9" stroke-width="1" stroke-dasharray="1 1" fill="none"/>
<line x1="294.50" y1="42.20" x2="294.50" y2="144.20" stroke="#d9d9d9" stroke-width="1" stroke-dasharray="1 1" fill="none"/>
<g clip-path="url(#ci)" fill="none" stroke-width="1.80" stroke-linejoin="round">
<line x1="208.90" y1="54.95" x2="311.30" y2="54.95" stroke="#ff00ff"/>
<path d="M209.01 55.37 L209.40 55.40 L209.79 55.44 L210.18 55.48 L210.57 55.52 L210.96 55.57 L211.35 55.61 L211.74 55.66 L212.13 55.71 L212.53 55.77 L212.92 55.83 L213.32 55.89 L213.71 55.95 L214.10 56.02 L214.50 56.09 L214.89 56.16 L215.29 56.23 L215.68 56.31 L216.08 56.39 L216.47 56.48 L216.87 56.57 L217.26 56.66 L217.65 56.75 L218.04 56.85 L218.43 56.95 L218.82 57.06 L219.21 57.17 L219.60 57.28 L219.98 57.40 L220.37 57.52 L220.75 57.64 L221.13 57.77 L221.51 57.90 L221.89 58.04 L222.26 58.18 L222.64 58.32 L223.01 58.47 L223.38 58.62 L223.74 58.78 L224.11 58.94 L224.47 59.11 L224.83 59.28 L225.19 59.45 L225.54 59.63 L225.89 59.81 L226.24 60.00 L226.59 60.19 L226.93 60.39 L227.27 60.59 L227.60 60.80 L227.93 61.01 L228.26 61.23 L228.59 61.45 L228.91 61.68 L229.22 61.91 L229.54 62.15 L229.85 62.39 L230.15 62.63 L230.46 62.88 L230.76 63.14 L231.05 63.40 L231.35 63.66 L231.64 63.93 L231.92 64.20 L232.21 64.47 L232.49 64.75 L232.77 65.03 L233.05 65.32 L233.32 65.60 L233.59 65.89 L233.86 66.19 L234.13 66.49 L234.40 66.78 L234.66 67.09 L234.92 67.39 L235.18 67.70 L235.44 68.01 L235.69 68.32 L235.95 68.63 L236.20 68.95 L236.45 69.27 L236.70 69.58 L236.95 69.90 L237.20 70.23 L237.45 70.55 L237.69 70.87 L237.94 71.20 L238.18 71.52 L238.42 71.85 L238.67 72.18 L238.91 72.50 L239.15 72.83 L239.39 73.16 L239.63 73.49 L239.88 73.81 L240.12 74.14 L240.37 74.46 L240.61 74.78 L240.86 75.10 L241.12 75.41 L241.37 75.73 L241.63 76.04 L241.89 76.34 L242.15 76.65 L242.42 76.94 L242.69 77.24 L242.96 77.53 L243.24 77.81 L243.53 78.09 L243.82 78.36 L244.11 78.63 L244.41 78.89 L244.72 79.14 L245.03 79.39 L245.35 79.63 L245.68 79.86 L246.01 80.08 L246.36 80.29 L246.70 80.50 L247.06 80.69 L247.42 80.87 L247.78 81.03 L248.15 81.17 L248.52 81.29 L248.88 81.39 L249.25 81.46 L249.61 81.50 L249.97 81.50 L250.33 81.48 L250.68 81.42 L251.03 81.33 L251.37 81.22 L251.70 81.07 L252.03 80.90 L252.36 80.71 L252.67 80.50 L252.99 80.26 L253.29 80.01 L253.60 79.74 L253.89 79.45 L254.18 79.15 L254.46 78.84 L254.74 78.52 L255.01 78.19 L255.27 77.86 L255.53 77.52 L255.78 77.18 L256.02 76.84 L256.26 76.49 L256.49 76.15 L256.71 75.81 L256.93 75.47 L257.15 75.13 L257.36 74.79 L257.58 74.45 L257.79 74.11 L258.00 73.77 L258.21 73.43 L258.42 73.10 L258.64 72.76 L258.86 72.42 L259.08 72.08 L259.31 71.75 L259.54 71.42 L259.78 71.09 L260.02 70.76 L260.27 70.44 L260.52 70.12 L260.78 69.81 L261.05 69.51 L261.31 69.21 L261.59 68.92 L261.87 68.64 L262.16 68.37 L262.46 68.11 L262.76 67.86 L263.07 67.63 L263.39 67.40 L263.71 67.19 L264.04 67.00 L264.39 66.82 L264.73 66.65 L265.09 66.50 L265.46 66.37 L265.83 66.25 L266.21 66.14 L266.59 66.05 L266.98 65.97 L267.38 65.90 L267.77 65.84 L268.17 65.80 L268.58 65.76 L268.98 65.73 L269.39 65.70 L269.79 65.68 L270.20 65.67 L270.60 65.66 L271.00 65.66 L271.41 65.67 L271.81 65.67 L272.21 65.69 L272.61 65.70 L273.01 65.72 L273.41 65.75 L273.81 65.78 L274.21 65.81 L274.61 65.84 L275.00 65.88 L275.40 65.92 L275.80 65.97 L276.19 66.02 L276.59 66.07 L276.98 66.12 L277.38 66.17 L277.77 66.23 L278.17 66.29 L278.56 66.35 L278.96 66.41 L279.35 66.47 L279.75 66.54 L280.14 66.60 L280.53 66.67 L280.93 66.73 L281.32 66.80 L281.71 66.87 L282.11 66.93 L282.50 67.00 L282.89 67.07 L283.29 67.13 L283.68 67.20 L284.07 67.26 L284.47 67.33 L284.86 67.39 L285.26 67.45 L285.65 67.51 L286.05 67.57 L286.44 67.63 L286.83 67.68 L287.23 67.74 L287.62 67.79 L288.02 67.84 L288.42 67.89 L288.81 67.94 L289.21 67.99 L289.60 68.03 L290.00 68.08 L290.40 68.12 L290.79 68.16 L291.19 68.20 L291.59 68.24 L291.98 68.28 L292.38 68.32 L292.78 68.36 L293.17 68.39 L293.57 68.42 L293.97 68.46 L294.37 68.49 L294.76 68.52 L295.16 68.55 L295.56 68.58 L295.96 68.61 L296.36 68.64 L296.75 68.66 L297.15 68.69 L297.55 68.71 L297.95 68.74 L298.35 68.76 L298.75 68.78 L299.14 68.81 L299.54 68.83 L299.94 68.85 L300.34 68.87 L300.74 68.88 L301.14 68.90 L301.54 68.92 L301.94 68.94 L302.33 68.95 L302.73 68.97 L303.13 68.98 L303.53 69.00 L303.93 69.01 L304.33 69.03 L304.73 69.04 L305.13 69.05 L305.52 69.06 L305.92 69.08 L306.32 69.09 L306.72 69.10 L307.12 69.11 L307.52 69.12 L307.92 69.13 L308.31 69.14 L308.71 69.15 L309.11 69.16 L309.51 69.17 L309.91 69.18 L310.31 69.18 L310.70 69.19 L311.10 69.20 L311.50 69.21" stroke="#0000ff"/>
<path d="M209.01 55.81 L209.44 55.89 L209.87 55.97 L210.30 56.05 L210.74 56.14 L211.18 56.24 L211.62 56.33 L212.05 56.44 L212.49 56.55 L212.93 56.67 L213.37 56.79 L213.81 56.92 L214.25 57.05 L214.69 57.19 L215.12 57.33 L215.56 57.49 L215.99 57.64 L216.42 57.81 L216.85 57.98 L217.27 58.15 L217.69 58.34 L218.11 58.53 L218.52 58.72 L218.93 58.93 L219.34 59.14 L219.74 59.35 L220.14 59.58 L220.53 59.81 L220.91 60.05 L221.29 60.29 L221.67 60.55 L222.03 60.81 L222.39 61.07 L222.75 61.35 L223.09 61.63 L223.43 61.92 L223.76 62.22 L224.09 62.53 L224.41 62.84 L224.72 63.16 L225.03 63.48 L225.33 63.81 L225.63 64.15 L225.92 64.49 L226.20 64.83 L226.49 65.18 L226.76 65.54 L227.04 65.90 L227.30 66.26 L227.57 66.62 L227.83 66.99 L228.09 67.37 L228.35 67.74 L228.60 68.12 L228.85 68.50 L229.10 68.88 L229.35 69.27 L229.60 69.65 L229.84 70.04 L230.08 70.43 L230.33 70.81 L230.57 71.20 L230.81 71.59 L231.05 71.98 L231.29 72.37 L231.54 72.75 L231.78 73.14 L232.02 73.53 L232.26 73.91 L232.50 74.30 L232.74 74.68 L232.98 75.07 L233.22 75.46 L233.46 75.84 L233.70 76.23 L233.94 76.61 L234.18 76.99 L234.42 77.38 L234.66 77.76 L234.90 78.15 L235.14 78.53 L235.37 78.92 L235.61 79.30 L235.84 79.69 L236.08 80.08 L236.31 80.46 L236.54 80.85 L236.78 81.23 L237.01 81.62 L237.24 82.01 L237.47 82.39 L237.69 82.78 L237.92 83.17 L238.15 83.56 L238.37 83.95 L238.60 84.34 L238.82 84.73 L239.04 85.12 L239.26 85.51 L239.48 85.91 L239.69 86.30 L239.91 86.69 L240.12 87.09 L240.34 87.48 L240.55 87.88 L240.76 88.28 L240.96 88.67 L241.17 89.07 L241.37 89.47 L241.58 89.88 L241.78 90.28 L241.98 90.68 L242.18 91.08 L242.38 91.48 L242.59 91.89 L242.80 92.28 L243.02 92.68 L243.25 93.07 L243.48 93.47 L243.73 93.85 L243.98 94.24 L244.25 94.61 L244.53 94.99 L244.83 95.35 L245.14 95.71 L245.47 96.07 L245.82 96.41 L246.18 96.74 L246.56 97.05 L246.94 97.33 L247.34 97.57 L247.74 97.78 L248.15 97.95 L248.56 98.07 L248.98 98.13 L249.39 98.14 L249.80 98.08 L250.21 97.97 L250.60 97.81 L251.00 97.60 L251.38 97.35 L251.75 97.07 L252.11 96.76 L252.45 96.42 L252.77 96.06 L253.08 95.69 L253.37 95.31 L253.63 94.91 L253.89 94.52 L254.13 94.11 L254.35 93.70 L254.57 93.28 L254.77 92.86 L254.97 92.44 L255.16 92.02 L255.35 91.60 L255.54 91.18 L255.72 90.76 L255.90 90.35 L256.09 89.94 L256.28 89.54 L256.47 89.15 L256.67 88.76 L256.87 88.38 L257.08 88.00 L257.29 87.62 L257.49 87.24 L257.71 86.86 L257.92 86.48 L258.13 86.09 L258.35 85.70 L258.56 85.31 L258.78 84.91 L258.99 84.50 L259.21 84.09 L259.42 83.67 L259.64 83.25 L259.86 82.83 L260.08 82.40 L260.30 81.98 L260.54 81.56 L260.77 81.14 L261.01 80.73 L261.26 80.33 L261.52 79.93 L261.78 79.55 L262.05 79.18 L262.33 78.82 L262.63 78.48 L262.93 78.15 L263.24 77.84 L263.57 77.55 L263.91 77.29 L264.26 77.04 L264.63 76.82 L265.02 76.63 L265.42 76.46 L265.83 76.31 L266.25 76.19 L266.68 76.09 L267.12 76.00 L267.57 75.94 L268.02 75.89 L268.48 75.86 L268.94 75.84 L269.39 75.83 L269.85 75.83 L270.31 75.84 L270.76 75.86 L271.22 75.89 L271.67 75.93 L272.12 75.98 L272.57 76.03 L273.02 76.09 L273.47 76.16 L273.91 76.23 L274.36 76.31 L274.80 76.40 L275.24 76.49 L275.69 76.59 L276.13 76.69 L276.57 76.79 L277.01 76.90 L277.45 77.01 L277.89 77.12 L278.33 77.24 L278.77 77.36 L279.20 77.48 L279.64 77.60 L280.08 77.72 L280.52 77.84 L280.96 77.96 L281.39 78.08 L281.83 78.21 L282.27 78.33 L282.71 78.44 L283.15 78.56 L283.59 78.67 L284.03 78.79 L284.47 78.89 L284.91 79.00 L285.35 79.10 L285.79 79.20 L286.23 79.29 L286.68 79.38 L287.12 79.46 L287.57 79.54 L288.01 79.62 L288.46 79.69 L288.90 79.76 L289.35 79.83 L289.80 79.90 L290.25 79.96 L290.70 80.01 L291.15 80.07 L291.60 80.12 L292.05 80.17 L292.50 80.21 L292.95 80.26 L293.40 80.30 L293.85 80.34 L294.30 80.38 L294.75 80.41 L295.21 80.44 L295.66 80.47 L296.11 80.50 L296.57 80.53 L297.02 80.56 L297.47 80.58 L297.93 80.60 L298.38 80.62 L298.83 80.64 L299.29 80.66 L299.74 80.68 L300.20 80.70 L300.65 80.71 L301.10 80.73 L301.56 80.74 L302.01 80.76 L302.47 80.77 L302.92 80.79 L303.37 80.80 L303.83 80.81 L304.28 80.82 L304.73 80.84 L305.19 80.85 L305.64 80.87 L306.09 80.88 L306.54 80.89 L307.00 80.91 L307.45 80.93 L307.90 80.94 L308.35 80.96 L308.80 80.98 L309.25 81.00 L309.70 81.02 L310.15 81.04 L310.60 81.07 L311.05 81.09 L311.50 81.12" stroke="#00ff00"/>
<path d="M209.01 56.40 L209.48 56.48 L209.95 56.58 L210.42 56.68 L210.88 56.79 L211.35 56.91 L211.82 57.04 L212.28 57.18 L212.75 57.33 L213.21 57.49 L213.67 57.66 L214.13 57.84 L214.58 58.02 L215.03 58.22 L215.48 58.43 L215.92 58.64 L216.36 58.87 L216.80 59.10 L217.22 59.34 L217.65 59.59 L218.07 59.85 L218.48 60.12 L218.88 60.40 L219.28 60.68 L219.67 60.98 L220.06 61.28 L220.43 61.59 L220.80 61.92 L221.16 62.24 L221.51 62.58 L221.85 62.93 L222.18 63.28 L222.50 63.65 L222.81 64.02 L223.11 64.40 L223.40 64.78 L223.68 65.18 L223.95 65.58 L224.22 65.98 L224.47 66.40 L224.72 66.81 L224.96 67.24 L225.20 67.66 L225.43 68.09 L225.66 68.52 L225.89 68.96 L226.11 69.39 L226.33 69.83 L226.54 70.27 L226.76 70.70 L226.97 71.14 L227.19 71.58 L227.41 72.01 L227.62 72.44 L227.84 72.88 L228.06 73.31 L228.28 73.73 L228.50 74.16 L228.72 74.59 L228.94 75.02 L229.17 75.44 L229.39 75.87 L229.61 76.29 L229.84 76.72 L230.06 77.15 L230.29 77.57 L230.52 78.00 L230.75 78.43 L230.97 78.86 L231.20 79.29 L231.43 79.72 L231.66 80.15 L231.89 80.58 L232.12 81.01 L232.35 81.45 L232.58 81.88 L232.81 82.31 L233.04 82.75 L233.26 83.18 L233.49 83.62 L233.72 84.05 L233.95 84.49 L234.18 84.93 L234.40 85.36 L234.63 85.80 L234.85 86.24 L235.08 86.68 L235.30 87.11 L235.52 87.55 L235.74 87.99 L235.96 88.43 L236.18 88.87 L236.40 89.31 L236.61 89.75 L236.83 90.19 L237.04 90.63 L237.25 91.07 L237.46 91.51 L237.67 91.94 L237.88 92.38 L238.08 92.82 L238.29 93.26 L238.49 93.70 L238.68 94.14 L238.88 94.58 L239.07 95.02 L239.27 95.46 L239.46 95.90 L239.64 96.34 L239.83 96.78 L240.01 97.21 L240.20 97.65 L240.38 98.09 L240.57 98.53 L240.76 98.96 L240.95 99.40 L241.14 99.84 L241.34 100.27 L241.55 100.71 L241.75 101.15 L241.97 101.58 L242.19 102.02 L242.42 102.45 L242.66 102.89 L242.90 103.32 L243.16 103.76 L243.42 104.19 L243.70 104.62 L243.99 105.06 L244.29 105.49 L244.60 105.92 L244.93 106.35 L245.27 106.78 L245.62 107.20 L245.99 107.60 L246.36 107.97 L246.74 108.31 L247.12 108.60 L247.51 108.85 L247.90 109.04 L248.29 109.17 L248.68 109.22 L249.07 109.20 L249.46 109.10 L249.84 108.93 L250.21 108.71 L250.58 108.43 L250.95 108.11 L251.30 107.75 L251.65 107.36 L251.99 106.94 L252.32 106.52 L252.64 106.09 L252.95 105.66 L253.25 105.23 L253.54 104.80 L253.82 104.38 L254.09 103.95 L254.35 103.53 L254.60 103.11 L254.84 102.68 L255.08 102.26 L255.31 101.83 L255.53 101.41 L255.74 100.98 L255.95 100.55 L256.15 100.11 L256.35 99.67 L256.54 99.23 L256.73 98.79 L256.92 98.34 L257.10 97.89 L257.28 97.43 L257.46 96.98 L257.64 96.53 L257.82 96.07 L258.00 95.62 L258.19 95.16 L258.37 94.71 L258.56 94.26 L258.75 93.80 L258.94 93.36 L259.14 92.91 L259.35 92.47 L259.56 92.03 L259.78 91.59 L260.00 91.16 L260.23 90.74 L260.48 90.32 L260.73 89.90 L260.99 89.49 L261.26 89.09 L261.55 88.70 L261.84 88.31 L262.15 87.93 L262.48 87.56 L262.81 87.20 L263.17 86.84 L263.53 86.50 L263.91 86.17 L264.31 85.86 L264.71 85.56 L265.13 85.28 L265.55 85.02 L265.99 84.79 L266.43 84.58 L266.88 84.40 L267.34 84.24 L267.80 84.12 L268.27 84.03 L268.74 83.97 L269.22 83.95 L269.70 83.95 L270.18 83.98 L270.66 84.03 L271.14 84.10 L271.63 84.19 L272.11 84.29 L272.60 84.41 L273.08 84.52 L273.57 84.65 L274.05 84.77 L274.53 84.90 L275.01 85.03 L275.48 85.15 L275.96 85.28 L276.43 85.41 L276.91 85.54 L277.38 85.67 L277.85 85.80 L278.32 85.93 L278.79 86.06 L279.26 86.19 L279.73 86.32 L280.20 86.45 L280.67 86.58 L281.14 86.70 L281.61 86.83 L282.07 86.95 L282.54 87.07 L283.01 87.19 L283.48 87.31 L283.95 87.42 L284.42 87.53 L284.90 87.64 L285.37 87.75 L285.84 87.85 L286.31 87.95 L286.79 88.05 L287.27 88.14 L287.74 88.23 L288.22 88.32 L288.70 88.41 L289.18 88.49 L289.66 88.57 L290.14 88.65 L290.62 88.72 L291.10 88.80 L291.58 88.87 L292.06 88.93 L292.54 89.00 L293.03 89.06 L293.51 89.13 L294.00 89.19 L294.48 89.24 L294.97 89.30 L295.45 89.35 L295.94 89.40 L296.42 89.45 L296.91 89.50 L297.40 89.55 L297.88 89.59 L298.37 89.63 L298.86 89.67 L299.34 89.71 L299.83 89.75 L300.32 89.79 L300.81 89.82 L301.29 89.86 L301.78 89.89 L302.27 89.92 L302.76 89.95 L303.24 89.98 L303.73 90.01 L304.22 90.03 L304.71 90.06 L305.19 90.09 L305.68 90.11 L306.17 90.13 L306.65 90.16 L307.14 90.18 L307.62 90.20 L308.11 90.22 L308.60 90.24 L309.08 90.26 L309.56 90.28 L310.05 90.30 L310.53 90.32 L311.01 90.34 L311.50 90.35" stroke="#ffa500"/>
<path d="M208.99 57.11 L209.51 57.20 L210.02 57.31 L210.53 57.43 L211.03 57.57 L211.53 57.73 L212.01 57.89 L212.49 58.08 L212.97 58.27 L213.43 58.48 L213.89 58.70 L214.35 58.94 L214.79 59.19 L215.23 59.45 L215.66 59.72 L216.08 60.00 L216.50 60.30 L216.91 60.60 L217.31 60.92 L217.70 61.24 L218.08 61.58 L218.46 61.92 L218.83 62.28 L219.19 62.64 L219.54 63.01 L219.88 63.39 L220.22 63.78 L220.54 64.17 L220.86 64.58 L221.17 64.99 L221.47 65.40 L221.76 65.83 L222.05 66.25 L222.32 66.69 L222.58 67.13 L222.84 67.57 L223.09 68.02 L223.33 68.47 L223.57 68.93 L223.80 69.38 L224.03 69.84 L224.25 70.30 L224.48 70.76 L224.70 71.23 L224.93 71.69 L225.16 72.14 L225.40 72.60 L225.63 73.06 L225.87 73.51 L226.11 73.96 L226.35 74.42 L226.59 74.87 L226.83 75.32 L227.07 75.77 L227.31 76.22 L227.55 76.68 L227.79 77.13 L228.02 77.58 L228.25 78.04 L228.47 78.50 L228.69 78.95 L228.91 79.41 L229.13 79.87 L229.34 80.33 L229.56 80.79 L229.77 81.26 L229.98 81.72 L230.19 82.18 L230.40 82.65 L230.61 83.11 L230.82 83.58 L231.03 84.04 L231.24 84.51 L231.45 84.98 L231.66 85.45 L231.88 85.91 L232.09 86.38 L232.31 86.85 L232.52 87.32 L232.73 87.79 L232.95 88.26 L233.16 88.73 L233.38 89.20 L233.59 89.67 L233.80 90.14 L234.02 90.61 L234.23 91.08 L234.44 91.55 L234.65 92.02 L234.86 92.49 L235.07 92.96 L235.28 93.43 L235.48 93.90 L235.69 94.37 L235.89 94.84 L236.09 95.31 L236.29 95.78 L236.49 96.25 L236.69 96.72 L236.88 97.19 L237.08 97.66 L237.27 98.13 L237.45 98.60 L237.64 99.07 L237.82 99.53 L238.00 100.00 L238.18 100.47 L238.36 100.93 L238.53 101.40 L238.71 101.87 L238.88 102.33 L239.05 102.80 L239.23 103.27 L239.40 103.73 L239.58 104.20 L239.76 104.67 L239.94 105.14 L240.13 105.62 L240.32 106.09 L240.51 106.57 L240.71 107.05 L240.91 107.53 L241.12 108.01 L241.34 108.49 L241.56 108.98 L241.79 109.47 L242.03 109.96 L242.28 110.46 L242.54 110.96 L242.81 111.46 L243.08 111.97 L243.37 112.48 L243.67 112.98 L243.98 113.49 L244.30 113.98 L244.62 114.46 L244.96 114.92 L245.30 115.35 L245.65 115.76 L246.00 116.13 L246.36 116.47 L246.72 116.76 L247.09 117.00 L247.46 117.20 L247.84 117.33 L248.21 117.41 L248.59 117.42 L248.97 117.36 L249.35 117.25 L249.73 117.07 L250.11 116.84 L250.48 116.57 L250.85 116.25 L251.22 115.89 L251.58 115.49 L251.93 115.07 L252.28 114.62 L252.61 114.15 L252.94 113.66 L253.26 113.17 L253.56 112.66 L253.85 112.15 L254.13 111.64 L254.40 111.14 L254.65 110.64 L254.89 110.14 L255.12 109.65 L255.34 109.15 L255.55 108.67 L255.75 108.18 L255.95 107.70 L256.14 107.21 L256.32 106.73 L256.50 106.26 L256.68 105.78 L256.85 105.31 L257.02 104.84 L257.19 104.37 L257.36 103.90 L257.53 103.43 L257.71 102.96 L257.88 102.50 L258.06 102.03 L258.24 101.57 L258.42 101.11 L258.61 100.64 L258.81 100.18 L259.01 99.72 L259.22 99.26 L259.44 98.80 L259.66 98.34 L259.90 97.88 L260.15 97.42 L260.41 96.96 L260.68 96.51 L260.96 96.05 L261.26 95.61 L261.56 95.17 L261.88 94.75 L262.21 94.34 L262.55 93.94 L262.91 93.55 L263.27 93.19 L263.65 92.84 L264.05 92.52 L264.45 92.22 L264.87 91.94 L265.30 91.69 L265.75 91.47 L266.20 91.28 L266.67 91.12 L267.14 90.98 L267.62 90.87 L268.11 90.79 L268.60 90.74 L269.09 90.72 L269.59 90.72 L270.09 90.74 L270.60 90.79 L271.10 90.86 L271.61 90.94 L272.12 91.04 L272.63 91.16 L273.14 91.29 L273.65 91.42 L274.16 91.57 L274.67 91.73 L275.18 91.89 L275.69 92.06 L276.20 92.22 L276.70 92.39 L277.21 92.56 L277.71 92.72 L278.20 92.88 L278.70 93.04 L279.19 93.19 L279.69 93.34 L280.18 93.49 L280.67 93.63 L281.15 93.77 L281.64 93.90 L282.13 94.03 L282.62 94.16 L283.10 94.29 L283.59 94.41 L284.08 94.53 L284.57 94.64 L285.06 94.75 L285.55 94.86 L286.04 94.96 L286.54 95.06 L287.03 95.16 L287.53 95.26 L288.03 95.35 L288.53 95.44 L289.03 95.52 L289.53 95.60 L290.04 95.68 L290.54 95.76 L291.05 95.84 L291.55 95.91 L292.06 95.98 L292.57 96.05 L293.08 96.11 L293.59 96.17 L294.10 96.23 L294.61 96.29 L295.12 96.35 L295.63 96.40 L296.15 96.45 L296.66 96.50 L297.17 96.55 L297.69 96.59 L298.20 96.64 L298.71 96.68 L299.23 96.72 L299.74 96.76 L300.26 96.80 L300.77 96.83 L301.29 96.87 L301.80 96.90 L302.32 96.93 L302.83 96.96 L303.34 96.99 L303.86 97.02 L304.37 97.05 L304.88 97.07 L305.40 97.10 L305.91 97.12 L306.42 97.15 L306.93 97.17 L307.44 97.19 L307.95 97.21 L308.46 97.23 L308.97 97.25 L309.48 97.27 L309.98 97.29 L310.49 97.31 L310.99 97.33 L311.50 97.35" stroke="#ff0000"/>
</g>
<line x1="208.90" y1="131.50" x2="213.20" y2="131.50" stroke="#404040" stroke-width="1"/>
<line x1="311.30" y1="131.50" x2="307.00" y2="131.50" stroke="#404040" stroke-width="1"/>
<line x1="208.90" y1="118.50" x2="213.20" y2="118.50" stroke="#404040" stroke-width="1"/>
<line x1="311.30" y1="118.50" x2="307.00" y2="118.50" stroke="#404040" stroke-width="1"/>
<line x1="208.90" y1="105.50" x2="213.20" y2="105.50" stroke="#404040" stroke-width="1"/>
<line x1="311.30" y1="105.50" x2="307.00" y2="105.50" stroke="#404040" stroke-width="1"/>
<line x1="208.90" y1="93.50" x2="213.20" y2="93.50" stroke="#404040" stroke-width="1"/>
<line x1="311.30" y1="93.50" x2="307.00" y2="93.50" stroke="#404040" stroke-width="1"/>
<line x1="208.90" y1="80.50" x2="213.20" y2="80.50" stroke="#404040" stroke-width="1"/>
<line x1="311.30" y1="80.50" x2="307.00" y2="80.50" stroke="#404040" stroke-width="1"/>
<line x1="208.90" y1="67.50" x2="213.20" y2="67.50" stroke="#404040" stroke-width="1"/>
<line x1="311.30" y1="67.50" x2="307.00" y2="67.50" stroke="#404040" stroke-width="1"/>
<line x1="208.90" y1="54.50" x2="213.20" y2="54.50" stroke="#404040" stroke-width="1"/>
<line x1="311.30" y1="54.50" x2="307.00" y2="54.50" stroke="#404040" stroke-width="1"/>
<line x1="225.50" y1="144.20" x2="225.50" y2="139.90" stroke="#404040" stroke-width="1"/>
<line x1="225.50" y1="42.20" x2="225.50" y2="46.50" stroke="#404040" stroke-width="1"/>
<line x1="243.50" y1="144.20" x2="243.50" y2="139.90" stroke="#404040" stroke-width="1"/>
<line x1="243.50" y1="42.20" x2="243.50" y2="46.50" stroke="#404040" stroke-width="1"/>
<line x1="260.50" y1="144.20" x2="260.50" y2="139.90" stroke="#404040" stroke-width="1"/>
<line x1="260.50" y1="42.20" x2="260.50" y2="46.50" stroke="#404040" stroke-width="1"/>
<line x1="277.50" y1="144.20" x2="277.50" y2="139.90" stroke="#404040" stroke-width="1"/>
<line x1="277.50" y1="42.20" x2="277.50" y2="46.50" stroke="#404040" stroke-width="1"/>
<line x1="294.50" y1="144.20" x2="294.50" y2="139.90" stroke="#404040" stroke-width="1"/>
<line x1="294.50" y1="42.20" x2="294.50" y2="46.50" stroke="#404040" stroke-width="1"/>
<path d="M208.15 42.20 H312.00" stroke="#555" stroke-width="1.6" fill="none"/>
<path d="M208.90 41.40 V144.85" stroke="#3a3a3a" stroke-width="1.5" fill="none"/>
<path d="M208.15 144.20 H312.00" stroke="#000" stroke-width="1.3" fill="none"/>
<path d="M311.30 41.40 V144.85" stroke="#000" stroke-width="1.4" fill="none"/>
<g font-family="'Liberation Serif', serif" fill="#000" style="will-change:opacity">
<text x="126.30" y="313.00" font-size="17.00" text-anchor="end">0.0</text>
<text x="126.30" y="283.95" font-size="17.00" text-anchor="end">1.0</text>
<text x="126.30" y="254.90" font-size="17.00" text-anchor="end">2.0</text>
<text x="126.30" y="225.85" font-size="17.00" text-anchor="end">3.0</text>
<text x="126.30" y="196.80" font-size="17.00" text-anchor="end">4.0</text>
<text x="126.30" y="167.75" font-size="17.00" text-anchor="end">5.0</text>
<text x="126.30" y="138.70" font-size="17.00" text-anchor="end">6.0</text>
<text x="126.30" y="109.65" font-size="17.00" text-anchor="end">7.0</text>
<text x="126.30" y="80.60" font-size="17.00" text-anchor="end">8.0</text>
<text x="126.30" y="51.55" font-size="17.00" text-anchor="end">9.0</text>
<text x="126.30" y="22.50" font-size="17.00" text-anchor="end">10.0</text>
<text x="135.70" y="330.60" font-size="17.00" text-anchor="middle">0.01</text>
<text x="193.80" y="330.60" font-size="17.00" text-anchor="middle">0.1</text>
<text x="251.90" y="330.60" font-size="17.00" text-anchor="middle">1</text>
<text x="310.00" y="330.60" font-size="17.00" text-anchor="middle">10</text>
<text x="368.10" y="330.60" font-size="17.00" text-anchor="middle">100</text>
<text x="426.20" y="330.60" font-size="17.00" text-anchor="middle">1000</text>
<text x="168.90" y="350.50" font-size="17.00" textLength="229.60" lengthAdjust="spacing">Interspecies interaction parameter</text>
<text transform="translate(77.20 261.10) rotate(-90)" font-size="17.00" textLength="207.20" lengthAdjust="spacing">Correlation energy per species</text>
<text x="362.60" y="37.00" font-size="19.30">(b)</text>
<text x="198.70" y="148.80" font-size="14.20" text-anchor="end">0.3</text>
<text x="198.70" y="136.05" font-size="14.20" text-anchor="end">0.4</text>
<text x="198.70" y="123.30" font-size="14.20" text-anchor="end">0.5</text>
<text x="198.70" y="110.55" font-size="14.20" text-anchor="end">0.6</text>
<text x="198.70" y="97.80" font-size="14.20" text-anchor="end">0.7</text>
<text x="198.70" y="85.05" font-size="14.20" text-anchor="end">0.8</text>
<text x="198.70" y="72.30" font-size="14.20" text-anchor="end">0.9</text>
<text x="198.70" y="59.55" font-size="14.20" text-anchor="end">1.0</text>
<text x="198.70" y="46.80" font-size="14.20" text-anchor="end">1.1</text>
<text x="195.90" y="167.60" font-size="14.20">10<tspan font-size="11.60" dy="-6.90">−2</tspan></text>
<text x="243.10" y="165.70" font-size="14.20" text-anchor="middle">1</text>
<text x="267.40" y="167.60" font-size="14.20">10<tspan font-size="11.60" dy="-6.90">2</tspan></text>
<text x="301.60" y="167.60" font-size="14.20">10<tspan font-size="11.60" dy="-6.90">4</tspan></text>
</g>
</svg>
</body></html>
